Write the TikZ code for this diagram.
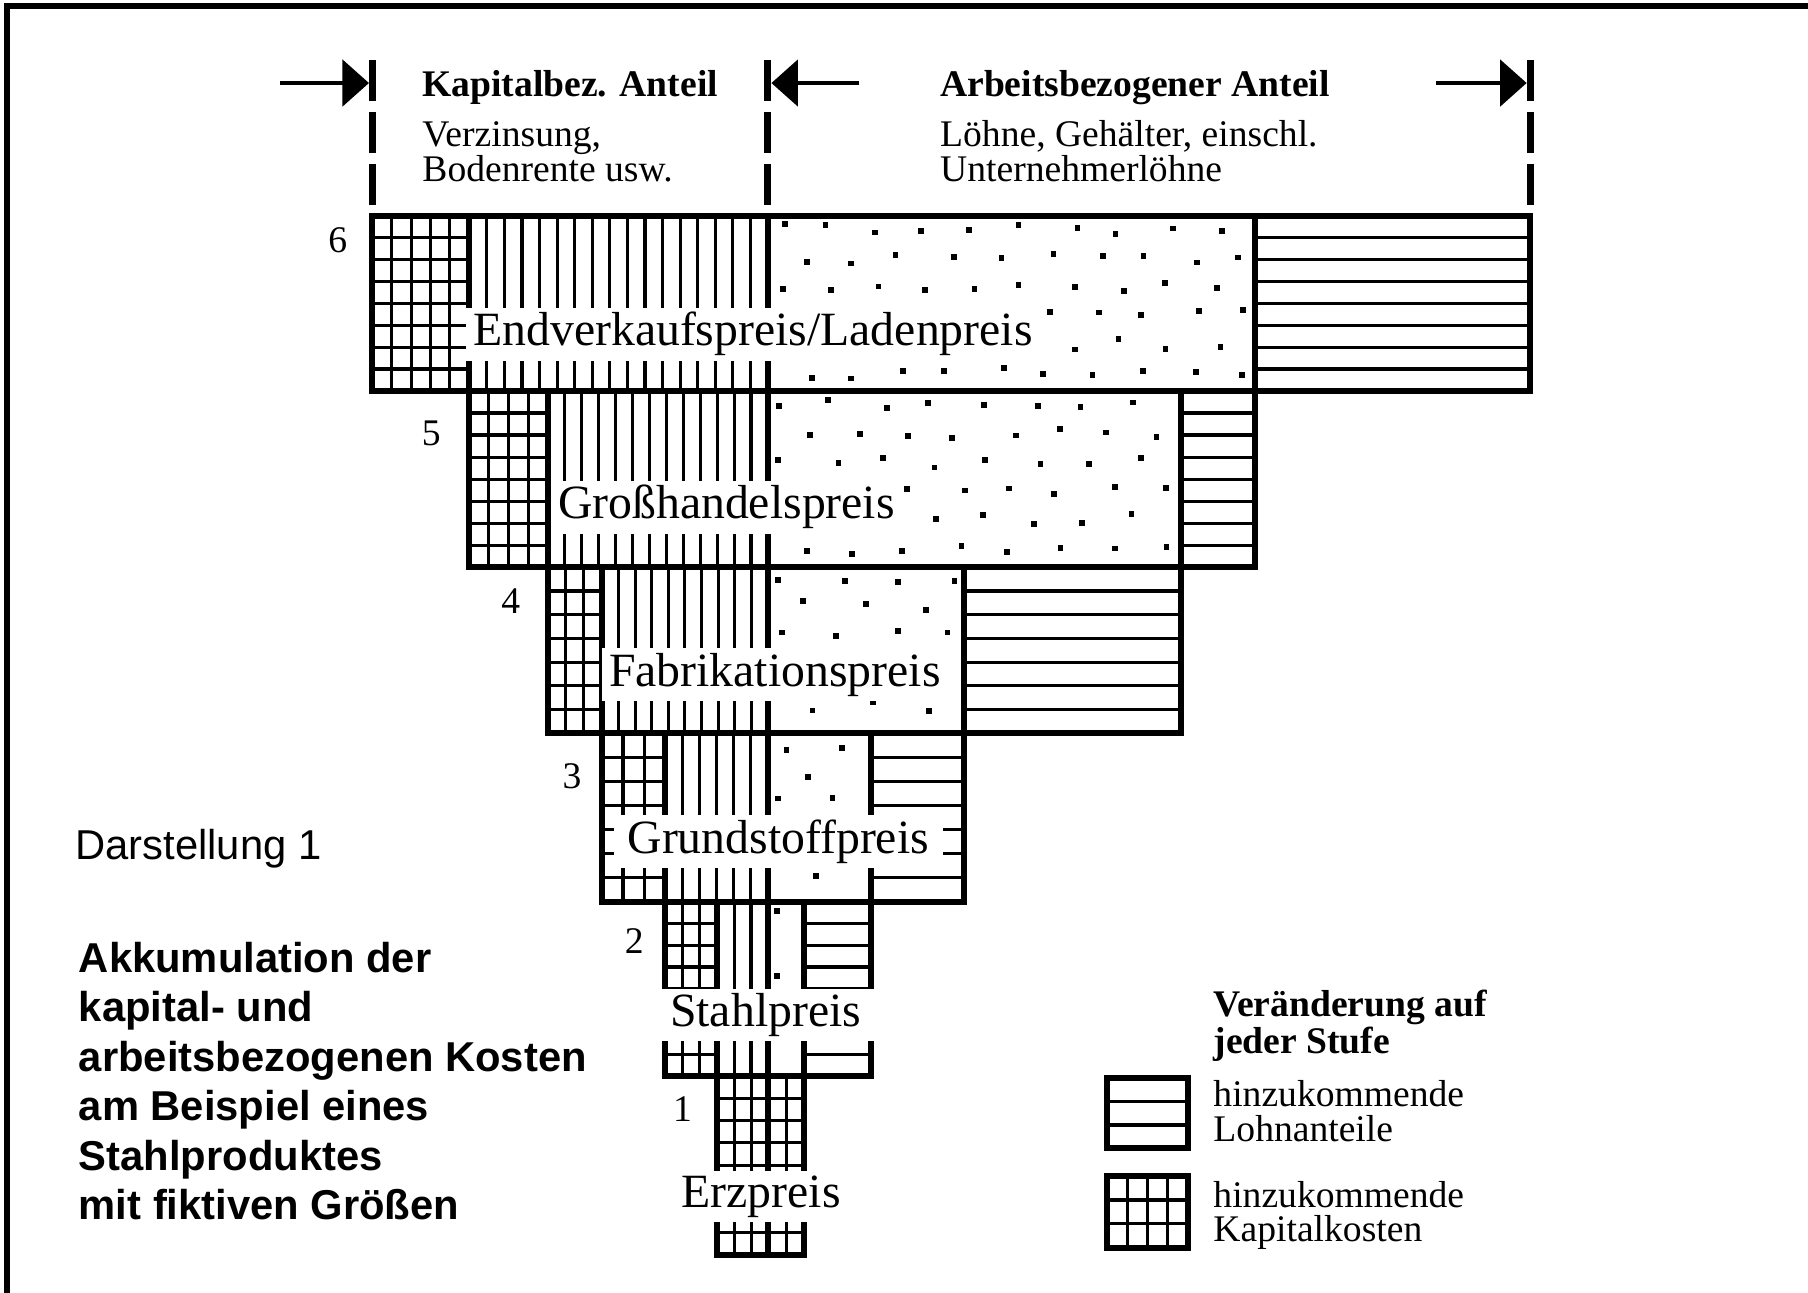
\documentclass[tikz,border=0pt]{standalone}
\usepackage{fontspec}
\setmainfont{Liberation Serif}
\setsansfont{Liberation Sans}
\usetikzlibrary{arrows.meta}
\tikzset{
  rahmen/.style={line width=2.6pt},
  muster/.style={line width=1.35pt},
  kante/.style={line width=2.6pt, line join=miter},
  trennlinie/.style={line width=3pt, dash pattern=on 18pt off 4.5pt},
  masspfeil/.style={line width=2pt, -{Triangle[length=11.5pt, width=20pt]}},
  stufe/.style={font=\fontsize{20.7}{22}\selectfont, fill=white, inner xsep=3pt, inner ysep=2pt, anchor=base},
  nummer/.style={font=\fontsize{16.3}{16}\selectfont, anchor=base, inner sep=0pt},
  kopf/.style={font=\fontsize{16.3}{15}\selectfont\bfseries, anchor=base west, align=left, inner sep=0pt},
  notiz/.style={font=\fontsize{16.3}{15}\selectfont, anchor=base west, align=left, inner sep=0pt},
  titel/.style={font=\sffamily\fontsize{18.1}{21.5}\selectfont, anchor=base west, align=left, inner sep=0pt}
}
% thin vertical lines in (x1,x2) x (y1,y2), about #5 apart
\newcommand{\senkrecht}[5]{%
  \pgfmathtruncatemacro{\anzahl}{round((#2-#1)/#5)}
  \foreach \i in {2,...,\anzahl}
    \draw[muster] ({#1+(\i-1)*(#2-#1)/\anzahl},#3) -- ({#1+(\i-1)*(#2-#1)/\anzahl},#4);}
% thin horizontal lines, about 20 apart
\newcommand{\waagrecht}[4]{%
  \pgfmathtruncatemacro{\anzahl}{round((#4-#3)/20)}
  \foreach \i in {2,...,\anzahl}
    \draw[muster] (#1,{#3+(\i-1)*(#4-#3)/\anzahl}) -- (#2,{#3+(\i-1)*(#4-#3)/\anzahl});}
% grid = capital costs
\newcommand{\gitter}[4]{\senkrecht{#1}{#2}{#3}{#4}{16}\waagrecht{#1}{#2}{#3}{#4}}
% scattered dots = accumulated wages
\newcommand{\punkte}[6]{%
  \pgfmathtruncatemacro{\spalten}{floor((#2-#1-10)/#5)}
  \pgfmathtruncatemacro{\zeilen}{floor((#4-#3-10)/#6)}
  \foreach \j in {0,...,\zeilen}{
    \foreach \i in {0,...,\spalten}{
      \pgfmathsetmacro{\punktx}{#1+9+\i*#5+mod(\j,2)*#5/2+6*rand}
      \pgfmathsetmacro{\punkty}{#3+9+\j*#6+5*rand}
      \pgfmathtruncatemacro{\drin}{(\punktx<#2-9)&&(\punkty<#4-9)&&(\punktx>#1+5)}
      \ifnum\drin=1 \fill (\punktx,\punkty) rectangle ++(5,5); \fi
    }}}

\begin{document}
\begin{tikzpicture}[x=0.5pt, y=-0.5pt]
\useasboundingbox (0,0) rectangle (1568,1121);
\pgfmathsetseed{31}
% frame (only top and left edge visible)
\draw[rahmen] (6,1121) -- (6,5) -- (1568,5);

% stage 6
\gitter{323}{407}{187}{339}
\senkrecht{407}{666}{187}{339}{15}
\punkte{666}{1088}{187}{339}{42}{25}
\waagrecht{1088}{1327}{187}{339}
% stage 5
\gitter{407}{475}{339}{492}
\senkrecht{475}{666}{339}{492}{15}
\punkte{666}{1024}{339}{492}{44}{25}
\waagrecht{1024}{1088}{339}{492}
% stage 4
\gitter{475}{522}{492}{636}
\senkrecht{522}{666}{492}{636}{15}
\punkte{666}{836}{492}{636}{50}{22}
\waagrecht{836}{1024}{492}{636}
% stage 3
\gitter{522}{577}{636}{782}
\senkrecht{577}{666}{636}{782}{15}
\punkte{666}{755}{636}{782}{50}{22}
\waagrecht{755}{836}{636}{782}
% stage 2
\gitter{577}{622}{782}{933}
\senkrecht{622}{666}{782}{933}{15}
\punkte{666}{697}{782}{933}{50}{24}
\waagrecht{697}{755}{782}{933}
% stage 1
\gitter{622}{697}{933}{1088}

% stage outlines, each reaching one stage up
\draw[kante] (323,187) rectangle (1327,339);
\draw[kante] (407,187) rectangle (1088,492);
\draw[kante] (475,339) rectangle (1024,636);
\draw[kante] (522,492) rectangle (836,782);
\draw[kante] (577,636) rectangle (755,933);
\draw[kante] (622,782) rectangle (697,1088);
\draw[kante] (666,187) -- (666,1088);

% dashed borders and dimension arrows
\draw[trennlinie] (323,52) -- (323,178);
\draw[trennlinie] (666,52) -- (666,178);
\draw[trennlinie] (1327,52) -- (1327,178);
\coordinate (kapLinks) at (320,72);
\coordinate (kapStart) at (243,72);
\coordinate (arbLinks) at (669,72);
\coordinate (arbStart) at (745,72);
\coordinate (arbRechts) at (1324,72);
\coordinate (arbEnde) at (1245,72);
\draw[masspfeil] (kapStart) -- (kapLinks);
\draw[masspfeil] (arbStart) -- (arbLinks);
\draw[masspfeil] (arbEnde) -- (arbRechts);

% headings
\node[kopf] (kapKopf) at (366,84) {Kapitalbez. Anteil};
\node[notiz] (kapText) at (366,157) {Verzinsung,\\Bodenrente usw.};
\node[kopf] (arbKopf) at (815,84) {Arbeitsbezogener Anteil};
\node[notiz] (arbText) at (815,157) {Löhne, Gehälter, einschl.\\Unternehmerlöhne};

% stage names
\node[stufe] (s6) at (653,300) {Endverkaufspreis/Ladenpreis};
\node[stufe] (s5) at (630,450) {Großhandelspreis};
\node[stufe] (s4) at (672,595) {Fabrikationspreis};
\node[stufe, inner xsep=6pt] (s3) at (675,740) {Grundstoffpreis};
\node[stufe, minimum width=96pt] (s2) at (664,890) {Stahlpreis};
\node[stufe] (s1) at (660,1047) {Erzpreis};
% stage numbers
\node[nummer] (n6) at (293,219) {6};
\node[nummer] (n5) at (374,386) {5};
\node[nummer] (n4) at (443,532) {4};
\node[nummer] (n3) at (496,684) {3};
\node[nummer] (n2) at (550,827) {2};
\node[nummer] (n1) at (592,973) {1};

% caption
\node[titel] (darst) at (65,745) {Darstellung 1};
\node[titel, font=\sffamily\bfseries\fontsize{18.1}{21.5}\selectfont] (titel) at (68,1058)
  {Akkumulation der\\kapital- und\\arbeitsbezogenen Kosten\\am Beispiel eines\\Stahlproduktes\\mit fiktiven Größen};

% legend
\node[kopf] (legKopf) at (1052,914) {Veränderung auf\\jeder Stufe};
\waagrecht{960}{1030}{935}{996}
\draw[kante] (960,935) rectangle (1030,996);
\node[notiz] (legLohn) at (1052,990) {hinzukommende\\Lohnanteile};
\senkrecht{960}{1030}{1020}{1082}{17.5}
\waagrecht{960}{1030}{1020}{1082}
\draw[kante] (960,1020) rectangle (1030,1082);
\node[notiz] (legKap) at (1052,1077) {hinzukommende\\Kapitalkosten};
\end{tikzpicture}
\end{document}
